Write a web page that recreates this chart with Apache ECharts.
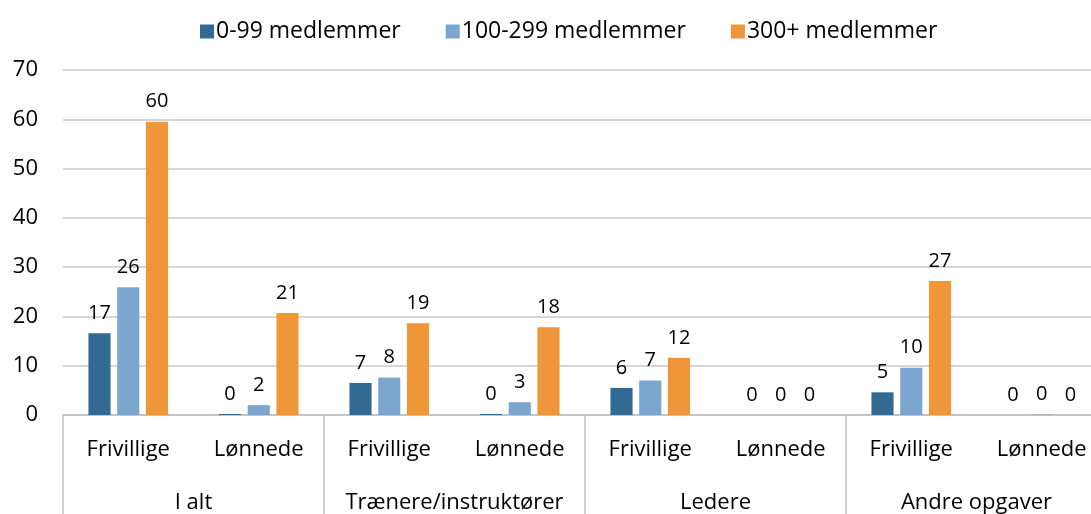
<!DOCTYPE html>
<html>
<head>
<meta charset="utf-8">
<script src="https://cdn.jsdelivr.net/npm/echarts@6/dist/echarts.min.js"></script>
<style>
html,body{margin:0;padding:0;background:#fff;}
#chart{width:1091px;height:514px;}
</style>
</head>
<body>
<div id="chart"></div>
<script>
const subCategories = ['Frivillige','Lønnede','Frivillige','Lønnede','Frivillige','Lønnede','Frivillige','Lønnede'];
const groups = ['I alt','Trænere/instruktører','Ledere','Andre opgaver'];
const seriesNames = ['0-99 medlemmer','100-299 medlemmer','300+ medlemmer'];
const small = [16.6, 0.2, 6.5, 0.2, 5.5, 0, 4.6, 0];
const medium = [25.9, 2.0, 7.6, 2.6, 7.0, 0, 9.6, 0.1];
const large = [59.5, 20.7, 18.6, 17.8, 11.6, 0, 27.2, 0];
const yTicks = {min: 0, max: 70, interval: 10};

const colors = ['#336a93', '#7aa6cf', '#ee9638'];
const FONT = '"Open Sans", sans-serif';

const chart = echarts.init(document.getElementById('chart'), null, {renderer: 'canvas'});
const mk = (name, data, color) => ({
  name, type: 'bar', data, xAxisIndex: 0,
  barGap: '30%', barCategoryGap: '39%',
  itemStyle: {color},
  label: {show: true, position: 'top', distance: 10, color: '#000', fontSize: 20, fontFamily: FONT,
    formatter: p => Math.round(p.value)}
});
chart.setOption({
  animation: false,
  textStyle: {fontFamily: FONT},
  legend: {
    top: 15, left: 195, itemGap: 45, itemWidth: 14, itemHeight: 14, icon: 'rect',
    textStyle: {fontSize: 23, color: '#000', fontFamily: FONT, padding: [0,0,0,-3]},
    data: seriesNames
  },
  grid: {left: 63, width: 1044, top: 70, bottom: 99, containLabel: false, outerBoundsMode: 'none'},
  xAxis: [{
    type: 'category', data: subCategories, position: 'bottom',
    axisLine: {show: true, lineStyle: {color: '#bfbfbf', width: 1.5}},
    axisTick: {show: false},
    axisLabel: {margin: 24, fontSize: 22, color: '#000', fontFamily: FONT, interval: 0}
  }, {
    type: 'category', data: groups, position: 'bottom', offset: 99,
    axisLine: {show: false},
    axisTick: {show: true, inside: true, length: 99, lineStyle: {color: '#bfbfbf', width: 1.5}},
    axisLabel: {inside: true, margin: 0, fontSize: 22, color: '#000', fontFamily: FONT, interval: 0}
  }],
  yAxis: {
    type: 'value', min: yTicks.min, max: yTicks.max, interval: yTicks.interval,
    axisLine: {show: false}, axisTick: {show: false},
    axisLabel: {margin: 25, fontSize: 22, color: '#000', fontFamily: FONT},
    splitLine: {lineStyle: {color: '#c9c9c9', width: 1.5}}
  },
  series: [mk(seriesNames[0], small, colors[0]), mk(seriesNames[1], medium, colors[1]), mk(seriesNames[2], large, colors[2])]
});
</script>
</body>
</html>
